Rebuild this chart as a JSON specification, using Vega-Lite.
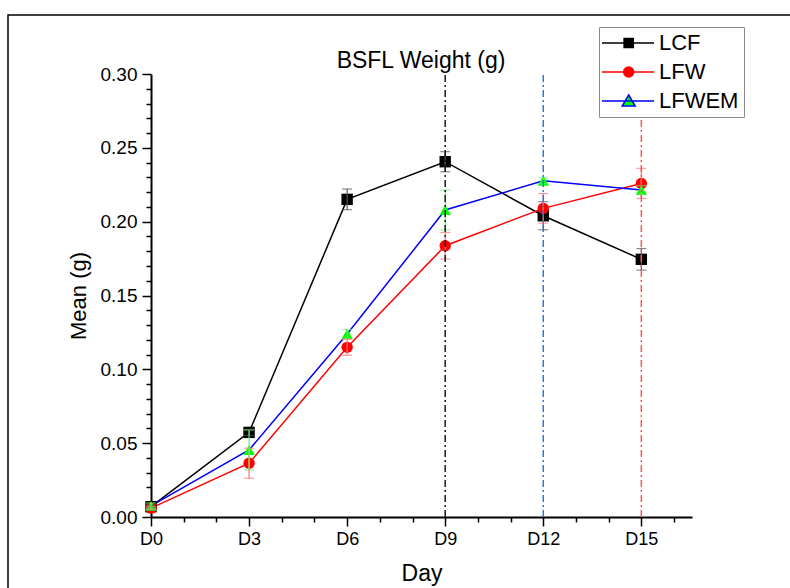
{
  "$schema": "https://vega.github.io/schema/vega-lite/v6.json",
  "width": 782,
  "height": 573,
  "autosize": {"type": "none"},
  "padding": {"left": 8, "top": 15, "right": 0, "bottom": 0},
  "background": "white",
  "config": {
    "view": {"stroke": "black", "strokeWidth": 1.5, "strokeDash": [782, 1355, 600, 100]},
    "font": "Liberation Sans",
    "axisY": {
      "grid": false,
      "domainColor": "black",
      "domainWidth": 2,
      "tickColor": "black",
      "tickWidth": 1.5,
      "labelFont": "Liberation Sans",
      "labelFontSize": 19,
      "labelColor": "black",
      "labelPadding": 5,
      "labelOverlap": false,
      "labelFlush": false,
      "labelBound": false,
      "titleFont": "Liberation Sans",
      "titleFontSize": 22,
      "titleFontWeight": "normal",
      "titleColor": "black",
      "titlePadding": 10
    }
  },
  "title": {
    "text": "BSFL Weight (g)",
    "font": "Liberation Sans",
    "fontSize": 23,
    "fontWeight": "normal",
    "color": "black",
    "frame": "group",
    "anchor": "middle",
    "baseline": "alphabetic",
    "offset": -76,
    "dx": 22
  },
  "datasets": {
    "weights": [
      {"day": 0, "series": "LCF", "mean": 0.007, "err": 0.001},
      {"day": 3, "series": "LCF", "mean": 0.0573, "err": 0.002},
      {"day": 6, "series": "LCF", "mean": 0.2151, "err": 0.007},
      {"day": 9, "series": "LCF", "mean": 0.2406, "err": 0.0068},
      {"day": 12, "series": "LCF", "mean": 0.204, "err": 0.0095},
      {"day": 15, "series": "LCF", "mean": 0.1745, "err": 0.0073},
      {"day": 0, "series": "LFW", "mean": 0.006, "err": 0.001},
      {"day": 3, "series": "LFW", "mean": 0.0364, "err": 0.0102},
      {"day": 6, "series": "LFW", "mean": 0.1149, "err": 0.0054},
      {"day": 9, "series": "LFW", "mean": 0.1837, "err": 0.009},
      {"day": 12, "series": "LFW", "mean": 0.209, "err": 0.01},
      {"day": 15, "series": "LFW", "mean": 0.2259, "err": 0.0102},
      {"day": 0, "series": "LFWEM", "mean": 0.0075, "err": 0.002},
      {"day": 3, "series": "LFWEM", "mean": 0.0454, "err": 0.0135},
      {"day": 6, "series": "LFWEM", "mean": 0.1239, "err": 0.003},
      {"day": 9, "series": "LFWEM", "mean": 0.2079, "err": 0.0135},
      {"day": 12, "series": "LFWEM", "mean": 0.2277, "err": 0.002},
      {"day": 15, "series": "LFWEM", "mean": 0.2214, "err": 0.003}
    ],
    "peaks": [
      {"day": 9, "series": "LCF"},
      {"day": 12, "series": "LFWEM"},
      {"day": 15, "series": "LFW"}
    ]
  },
  "encoding": {
    "x": {
      "field": "day",
      "type": "quantitative",
      "title": "Day",
      "scale": {"domain": [0, 16.55], "range": [143, 684], "nice": false, "zero": false},
      "axis": {
        "orient": "bottom",
        "offset": -71,
        "values": [0, 1, 2, 3, 4, 5, 6, 7, 8, 9, 10, 11, 12, 13, 14, 15, 16],
        "grid": false,
        "domainColor": "black",
        "domainWidth": 2,
        "tickColor": "black",
        "tickWidth": 1.5,
        "tickSize": {"condition": {"test": "datum.value % 3 === 0", "value": 9}, "value": 5},
        "labelExpr": "datum.value % 3 === 0 ? 'D' + datum.value : ''",
        "labelFont": "Liberation Sans",
        "labelFontSize": 18,
        "labelColor": "black",
        "labelPadding": 4,
        "labelOverlap": false,
        "labelFlush": false,
        "labelBound": false,
        "titleFont": "Liberation Sans",
        "titleFontSize": 23,
        "titleFontWeight": "normal",
        "titleColor": "black",
        "titlePadding": 14
      }
    }
  },
  "layer": [
    {
      "data": {"name": "weights"},
      "mark": {"type": "line", "strokeWidth": 1.5},
      "encoding": {
        "y": {
          "field": "mean",
          "type": "quantitative",
          "title": "Mean (g)",
          "scale": {"domain": [0, 0.3], "range": [502, 59], "nice": false, "zero": false},
          "axis": {
            "orient": "left",
            "offset": -143,
            "values": [0, 0.01, 0.02, 0.03, 0.04, 0.05, 0.06, 0.07, 0.08, 0.09, 0.1, 0.11, 0.12, 0.13, 0.14, 0.15, 0.16, 0.17, 0.18, 0.19, 0.2, 0.21, 0.22, 0.23, 0.24, 0.25, 0.26, 0.27, 0.28, 0.29, 0.3],
            "tickSize": {"condition": {"test": "round(datum.value * 100) % 5 === 0", "value": 9}, "value": 5},
            "labelExpr": "round(datum.value * 100) % 5 === 0 ? format(datum.value, '.2f') : ''"
          }
        },
        "stroke": {
          "field": "series",
          "type": "nominal",
          "scale": {"domain": ["LCF", "LFW", "LFWEM"], "range": ["#000000", "#ff0000", "#0000ff"]},
          "legend": {
            "orient": "none",
            "legendX": 591,
            "legendY": 12,
            "title": null,
            "labelFont": "Liberation Sans",
            "labelFontSize": 22,
            "labelColor": "black",
            "strokeColor": "#8c8c8c",
            "fillColor": "white",
            "padding": 5,
            "rowPadding": 7,
            "symbolSize": 400,
            "symbolStrokeWidth": 1.5,
            "labelOffset": 33,
            "encode": {
              "symbols": {
                "update": {
                  "shape": {"signal": "datum.value === 'LCF' ? 'M-1.3,0H3.9M0.91,-0.46H1.83V0.46H0.91Z' : datum.value === 'LFW' ? 'M-1.3,0H3.9M0.87,0A0.5,0.5,0,1,1,1.87,0A0.5,0.5,0,1,1,0.87,0Z' : 'M-1.3,0H3.9M1.37,-0.6L2.02,0.5H0.72Z'"},
                  "fill": {"signal": "datum.value === 'LCF' ? '#000000' : datum.value === 'LFW' ? '#ff0000' : '#00ff00'"},
                  "fillOpacity": {"value": 1}
                }
              }
            }
          }
        }
      }
    },
    {
      "data": {"name": "weights"},
      "mark": {"type": "point", "filled": true, "size": 130, "opacity": 1},
      "encoding": {
        "y": {
          "field": "mean",
          "type": "quantitative",
          "title": "Mean (g)",
          "axis": {
            "orient": "left",
            "offset": -143,
            "values": [0, 0.01, 0.02, 0.03, 0.04, 0.05, 0.06, 0.07, 0.08, 0.09, 0.1, 0.11, 0.12, 0.13, 0.14, 0.15, 0.16, 0.17, 0.18, 0.19, 0.2, 0.21, 0.22, 0.23, 0.24, 0.25, 0.26, 0.27, 0.28, 0.29, 0.3],
            "tickSize": {"condition": {"test": "round(datum.value * 100) % 5 === 0", "value": 9}, "value": 5},
            "labelExpr": "round(datum.value * 100) % 5 === 0 ? format(datum.value, '.2f') : ''"
          }
        },
        "shape": {
          "field": "series",
          "type": "nominal",
          "scale": {"domain": ["LCF", "LFW", "LFWEM"], "range": ["square", "circle", "triangle-up"]},
          "legend": null
        },
        "fill": {
          "field": "series",
          "type": "nominal",
          "scale": {"domain": ["LCF", "LFW", "LFWEM"], "range": ["#000000", "#ff0000", "#00ff00"]},
          "legend": null
        }
      }
    },
    {
      "data": {"name": "weights"},
      "mark": {"type": "errorbar", "ticks": {"size": 10}, "thickness": 1.2},
      "encoding": {
        "y": {
          "field": "mean",
          "type": "quantitative",
          "title": "Mean (g)",
          "axis": {
            "orient": "left",
            "offset": -143,
            "values": [0, 0.01, 0.02, 0.03, 0.04, 0.05, 0.06, 0.07, 0.08, 0.09, 0.1, 0.11, 0.12, 0.13, 0.14, 0.15, 0.16, 0.17, 0.18, 0.19, 0.2, 0.21, 0.22, 0.23, 0.24, 0.25, 0.26, 0.27, 0.28, 0.29, 0.3],
            "tickSize": {"condition": {"test": "round(datum.value * 100) % 5 === 0", "value": 9}, "value": 5},
            "labelExpr": "round(datum.value * 100) % 5 === 0 ? format(datum.value, '.2f') : ''"
          }
        },
        "yError": {"field": "err"},
        "color": {
          "field": "series",
          "type": "nominal",
          "scale": {"domain": ["LCF", "LFW", "LFWEM"], "range": ["#555555", "#ff7373", "#66ee66"]},
          "legend": null
        }
      }
    },
    {
      "data": {"name": "peaks"},
      "mark": {"type": "rule", "orient": "vertical", "strokeWidth": 1.5, "strokeDash": [7, 3, 2, 3]},
      "encoding": {
        "y": {
          "datum": 0,
          "type": "quantitative",
          "title": "Mean (g)",
          "axis": {
            "orient": "left",
            "offset": -143,
            "values": [0, 0.01, 0.02, 0.03, 0.04, 0.05, 0.06, 0.07, 0.08, 0.09, 0.1, 0.11, 0.12, 0.13, 0.14, 0.15, 0.16, 0.17, 0.18, 0.19, 0.2, 0.21, 0.22, 0.23, 0.24, 0.25, 0.26, 0.27, 0.28, 0.29, 0.3],
            "tickSize": {"condition": {"test": "round(datum.value * 100) % 5 === 0", "value": 9}, "value": 5},
            "labelExpr": "round(datum.value * 100) % 5 === 0 ? format(datum.value, '.2f') : ''"
          }
        },
        "y2": {"datum": 0.3},
        "stroke": {
          "field": "series",
          "type": "nominal",
          "scale": {"domain": ["LCF", "LFW", "LFWEM"], "range": ["#1a1a1a", "#ff5555", "#2878e8"]},
          "legend": null
        }
      }
    }
  ],
  "resolve": {"scale": {"stroke": "independent"}}
}
